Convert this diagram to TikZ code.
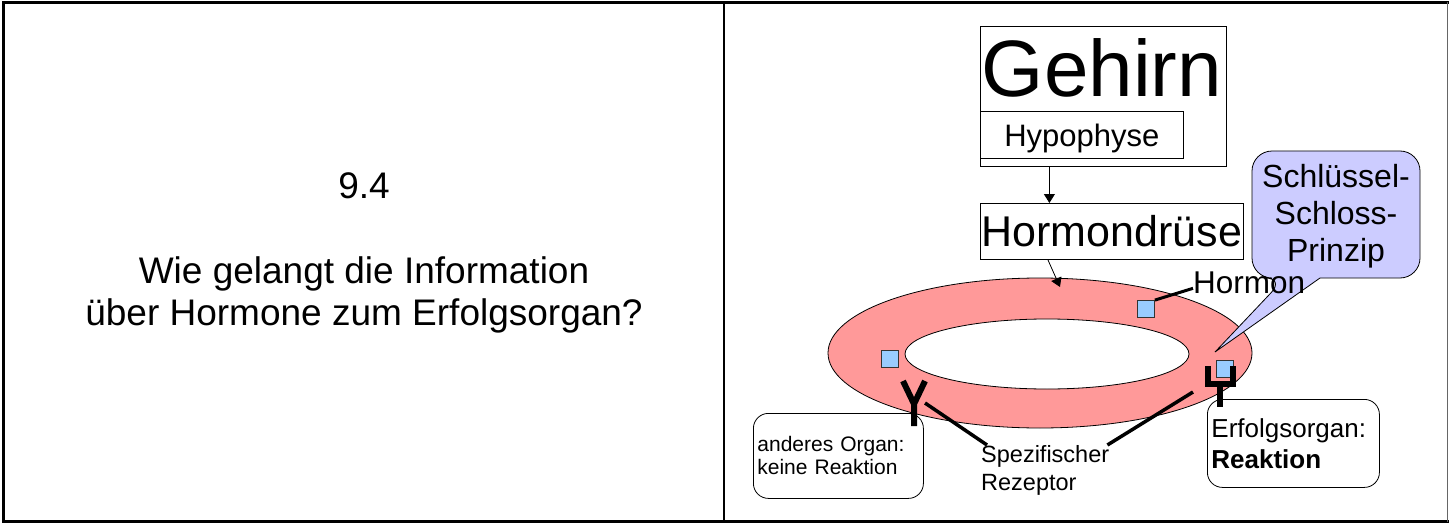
\documentclass[tikz,border=0pt]{standalone}
\usepackage{fontspec}
\setmainfont{Liberation Sans}
\usetikzlibrary{arrows.meta,positioning}

\definecolor{ringred}{HTML}{FF9999}
\definecolor{hsq}{HTML}{99CCFF}
\definecolor{bubble}{HTML}{CCCCFF}
\newcommand{\fsize}[2]{\fontsize{#1}{#2}\selectfont}

\begin{document}
\begin{tikzpicture}[x=1pt,y=-1pt,
  box/.style={draw, line width=0.8pt, inner sep=0pt},
  roundbox/.style={draw, line width=0.8pt, rounded corners=15pt, fill=white, align=left, inner xsep=4pt},
  hormonsq/.style={draw=black!80, line width=0.8pt, fill=hsq, minimum size=17pt, inner sep=0pt},
  link/.style={line width=3.5pt},
  receptor/.style={line width=6pt, line join=miter},
  arr/.style={-{Triangle[length=9pt,width=11pt]}, line width=0.8pt}]
\useasboundingbox (0,0) rectangle (1449,524);

\draw[line width=3pt] (2,3) -- (1449,3);
\draw[line width=2.5pt] (3.5,2) -- (3.5,522);
\draw[line width=3pt] (2,521) -- (1449,521);
\draw[line width=2pt] (724,2) -- (724,522);
\draw[black!60, line width=1.2pt] (1447.5,2) -- (1447.5,522);

\node[anchor=base, inner sep=0pt, font=\fsize{37}{42}] (num) at (364,198) {9.4};
\node[anchor=north, align=center, inner sep=0pt, font=\fsize{37}{42}] (frage) at (364,256)
  {Wie gelangt die Information\\über Hormone zum Erfolgsorgan?};

\node[box, minimum width=246, minimum height=140, anchor=north west] (gehirn) at (980,26) {};
\node[anchor=base, inner sep=0pt, font=\fsize{80}{80}] (gehirntxt) at (1102,97) {Gehirn};
\node[box, minimum width=203, minimum height=47, anchor=north west, text depth=0pt, font=\fsize{31}{31}] (hypophyse) at (980,111) {Hypophyse};
\node[box, minimum width=263, minimum height=56, anchor=north west, font=\fsize{43}{43}] (druese) at (980,203) {Hormondrüse};

\filldraw[fill=ringred, line width=0.8pt, even odd rule] (1040,353) ellipse [x radius=212, y radius=75]
  (1047,354) ellipse [x radius=142, y radius=35];

\coordinate (ringtop) at (1060,287);
\draw[arr] ([xshift=-54pt]gehirn.south) -- ([xshift=-54pt]gehirn.south |- druese.north);
\draw[arr] ([xshift=-64pt]druese.south) -- (ringtop);

\filldraw[fill=bubble, line width=0.8pt] (1215,352) [rounded corners=20pt] -- (1285,278) -- (1252,278) -- (1252,151)
  -- (1420,151) -- (1420,278) [sharp corners] -- (1320,278) -- cycle;
\node[anchor=north, align=center, inner sep=0pt, font=\fsize{32}{37}] (prinzip) at (1336,164) {Schlüssel-\\Schloss-\\Prinzip};

\node[hormonsq] (h1) at (1146,309) {};
\node[hormonsq] (h2) at (890,359) {};
\node[hormonsq] (h3) at (1225,369) {};

\node[anchor=base west, inner sep=0pt, font=\fsize{31.5}{31.5}] (hormon) at (1193,293) {Hormon};
\draw[line width=3pt] (h1.north east) -- ([yshift=-6pt]hormon.west);

\node[roundbox, minimum width=170, minimum height=85, text width=162, anchor=north west, font=\fsize{21}{23}] (anderes) at (753,413)
  {anderes Organ:\\keine Reaktion};
\node[roundbox, minimum width=172, minimum height=88, text width=164, anchor=north west, font=\fsize{26}{31}] (erfolg) at (1207,399)
  {Erfolgsorgan:\\\textbf{Reaktion}};

\draw[receptor] (903,381) -- (914,404) -- (925,381) (914,404) -- (914,426);
\draw[receptor] (1208,366) -- (1208,384) -- (1233,384) -- (1233,366) (1220,384) -- (1220,407);

\coordinate (yleft) at (925,403);
\coordinate (yright) at (1193,392);
\node[anchor=north west, align=left, inner sep=0pt, font=\fsize{23.5}{28}] (rezeptor) at (981,445) {Spezifischer\\Rezeptor};
\draw[link] (yleft) -- ([xshift=6pt]rezeptor.north west);
\draw[link] (yright) -- ([xshift=-2pt]rezeptor.north east);
\end{tikzpicture}
\end{document}
